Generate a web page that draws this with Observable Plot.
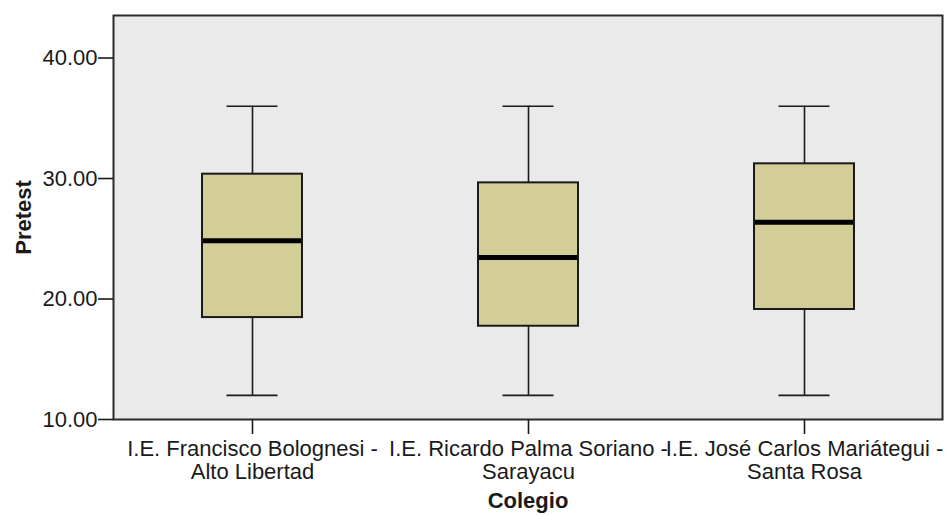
<!DOCTYPE html>
<html>
<head>
<meta charset="utf-8">
<script src="https://cdn.jsdelivr.net/npm/d3@7"></script>
<script src="https://cdn.jsdelivr.net/npm/@observablehq/plot@0.6"></script>
<style>
  html, body { margin: 0; padding: 0; background: #fff; }
  #chart svg { display: block; }
</style>
</head>
<body>
<div id="chart"></div>
<script>
// Data
const colegios = [
  "I.E. Francisco Bolognesi - Alto Libertad",
  "I.E. Ricardo Palma Soriano - Sarayacu",
  "I.E. José Carlos Mariátegui - Santa Rosa"
];
const minimo  = [12, 12, 12];
const q1      = [18.46, 17.74, 19.13];
const mediana = [24.83, 23.44, 26.37];
const q3      = [30.36, 29.64, 31.22];
const maximo  = [36, 36, 36];
const yTicks  = [10, 20, 30, 40];

const data = colegios.map((c, i) => ({
  colegio: c, min: minimo[i], q1: q1[i], med: mediana[i], q3: q3[i], max: maximo[i]
}));

const ink = "#1a1a1a";

const chart = Plot.plot({
  width: 946,
  height: 515,
  marginTop: 15,
  marginLeft: 113,
  marginRight: 4,
  marginBottom: 96,
  style: {
    fontFamily: "'Liberation Sans', Arial, sans-serif",
    fontSize: "22px",
    color: ink,
    background: "#fff"
  },
  x: { domain: colegios, paddingInner: 0.638, paddingOuter: 0.319, label: null },
  y: { domain: [10, 43.53], label: null },
  marks: [
    Plot.frame({ fill: "#eaeaea" }),
    Plot.ruleX(data, { x: "colegio", y1: "min", y2: "q1", stroke: ink, strokeWidth: 1.6 }),
    Plot.ruleX(data, { x: "colegio", y1: "q3", y2: "max", stroke: ink, strokeWidth: 1.6 }),
    Plot.tickY(data, { x: "colegio", y: "min", insetLeft: 24.5, insetRight: 24.5, stroke: ink, strokeWidth: 1.6 }),
    Plot.tickY(data, { x: "colegio", y: "max", insetLeft: 24.5, insetRight: 24.5, stroke: ink, strokeWidth: 1.6 }),
    Plot.barY(data, { x: "colegio", y1: "q1", y2: "q3", fill: "#d3ce97", stroke: ink, strokeWidth: 2 }),
    Plot.tickY(data, { x: "colegio", y: "med", stroke: "#000", strokeWidth: 5, insetLeft: 1, insetRight: 1 }),
    Plot.frame({ stroke: "#2a2a2a", strokeWidth: 2 }),
    Plot.axisY({
      ticks: yTicks, tickFormat: d3.format(".2f"), tickSize: 15, tickPadding: 1,
      fontSize: 22, label: null, stroke: ink, strokeWidth: 1.6
    }),
    Plot.axisX({
      tickSize: 15, tickPadding: 5, fontSize: 22, lineHeight: 1.05,
      tickFormat: d => d.replace(" - ", " -\n"), label: null, stroke: ink, strokeWidth: 1.6
    }),
    Plot.text(["Pretest"], {
      text: d => d, frameAnchor: "left", textAnchor: "middle", dx: -90, rotate: -90,
      fontWeight: "bold", fontSize: 22, fill: ink
    }),
    Plot.text(["Colegio"], {
      text: d => d, frameAnchor: "bottom", dy: 88,
      fontWeight: "bold", fontSize: 22, fill: ink
    })
  ]
});

document.getElementById("chart").appendChild(chart);
</script>
</body>
</html>
